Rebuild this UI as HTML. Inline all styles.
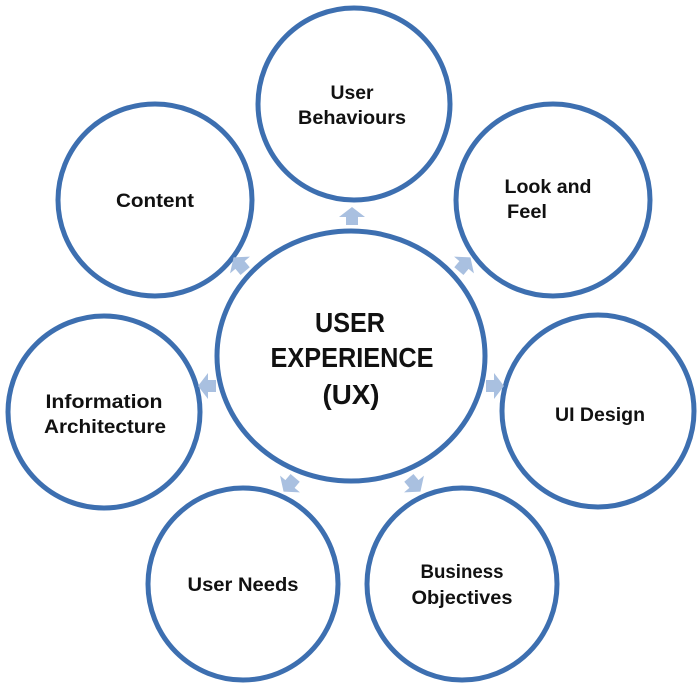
<!DOCTYPE html>
<html><head><meta charset="utf-8"><style>html,body{margin:0;padding:0;background:#fff}svg{display:block}</style></head>
<body>
<svg width="700" height="688" viewBox="0 0 700 688" xmlns="http://www.w3.org/2000/svg" font-family="Liberation Sans, sans-serif" fill="#111">
<defs>
<g id="arr"><path d="M-6,8 L-6,0 L-13,0 L0,-10 L13,0 L6,0 L6,8 Z" fill="#a9c0e0"/></g>
</defs>
<g fill="none" stroke="#3d6fb0" stroke-width="5">
<ellipse cx="354" cy="104" rx="96" ry="96"/>
<ellipse cx="155" cy="200" rx="97" ry="96"/>
<ellipse cx="553" cy="200" rx="97" ry="96"/>
<ellipse cx="351" cy="356" rx="134" ry="125"/>
<ellipse cx="104" cy="412" rx="96" ry="96"/>
<ellipse cx="598" cy="411" rx="96" ry="96"/>
<ellipse cx="243" cy="584" rx="95" ry="96"/>
<ellipse cx="462" cy="584" rx="95" ry="96"/>
</g>
<use href="#arr" transform="translate(352,217)"/>
<use href="#arr" transform="translate(240,265) rotate(-40)"/>
<use href="#arr" transform="translate(464,265) rotate(40)"/>
<use href="#arr" transform="translate(208,386) rotate(-90)"/>
<use href="#arr" transform="translate(494,386) rotate(90)"/>
<use href="#arr" transform="translate(290,484) rotate(-140)"/>
<use href="#arr" transform="translate(414,484) rotate(140)"/>
<g font-size="19" font-weight="bold" text-anchor="middle">
<text x="352" y="99" textLength="43" lengthAdjust="spacingAndGlyphs">User</text>
<text x="352" y="124" textLength="108" lengthAdjust="spacingAndGlyphs">Behaviours</text>
<text x="155" y="207" textLength="78" lengthAdjust="spacingAndGlyphs">Content</text>
<text x="548" y="193" textLength="87" lengthAdjust="spacingAndGlyphs">Look and</text>
<text x="527" y="218" textLength="40" lengthAdjust="spacingAndGlyphs">Feel</text>
<text x="104" y="408" textLength="117" lengthAdjust="spacingAndGlyphs">Information</text>
<text x="105" y="433" textLength="122" lengthAdjust="spacingAndGlyphs">Architecture</text>
<text x="600" y="421" textLength="90" lengthAdjust="spacingAndGlyphs">UI Design</text>
<text x="243" y="591" textLength="111" lengthAdjust="spacingAndGlyphs">User Needs</text>
<text x="462" y="578" textLength="83" lengthAdjust="spacingAndGlyphs">Business</text>
<text x="462" y="604" textLength="101" lengthAdjust="spacingAndGlyphs">Objectives</text>
</g>
<g font-size="28" font-weight="bold" text-anchor="middle">
<text x="350" y="332" textLength="70" lengthAdjust="spacingAndGlyphs">USER</text>
<text x="352" y="367" textLength="163" lengthAdjust="spacingAndGlyphs">EXPERIENCE</text>
<text x="351" y="404" textLength="57" lengthAdjust="spacingAndGlyphs">(UX)</text>
</g>
</svg>
</body></html>
